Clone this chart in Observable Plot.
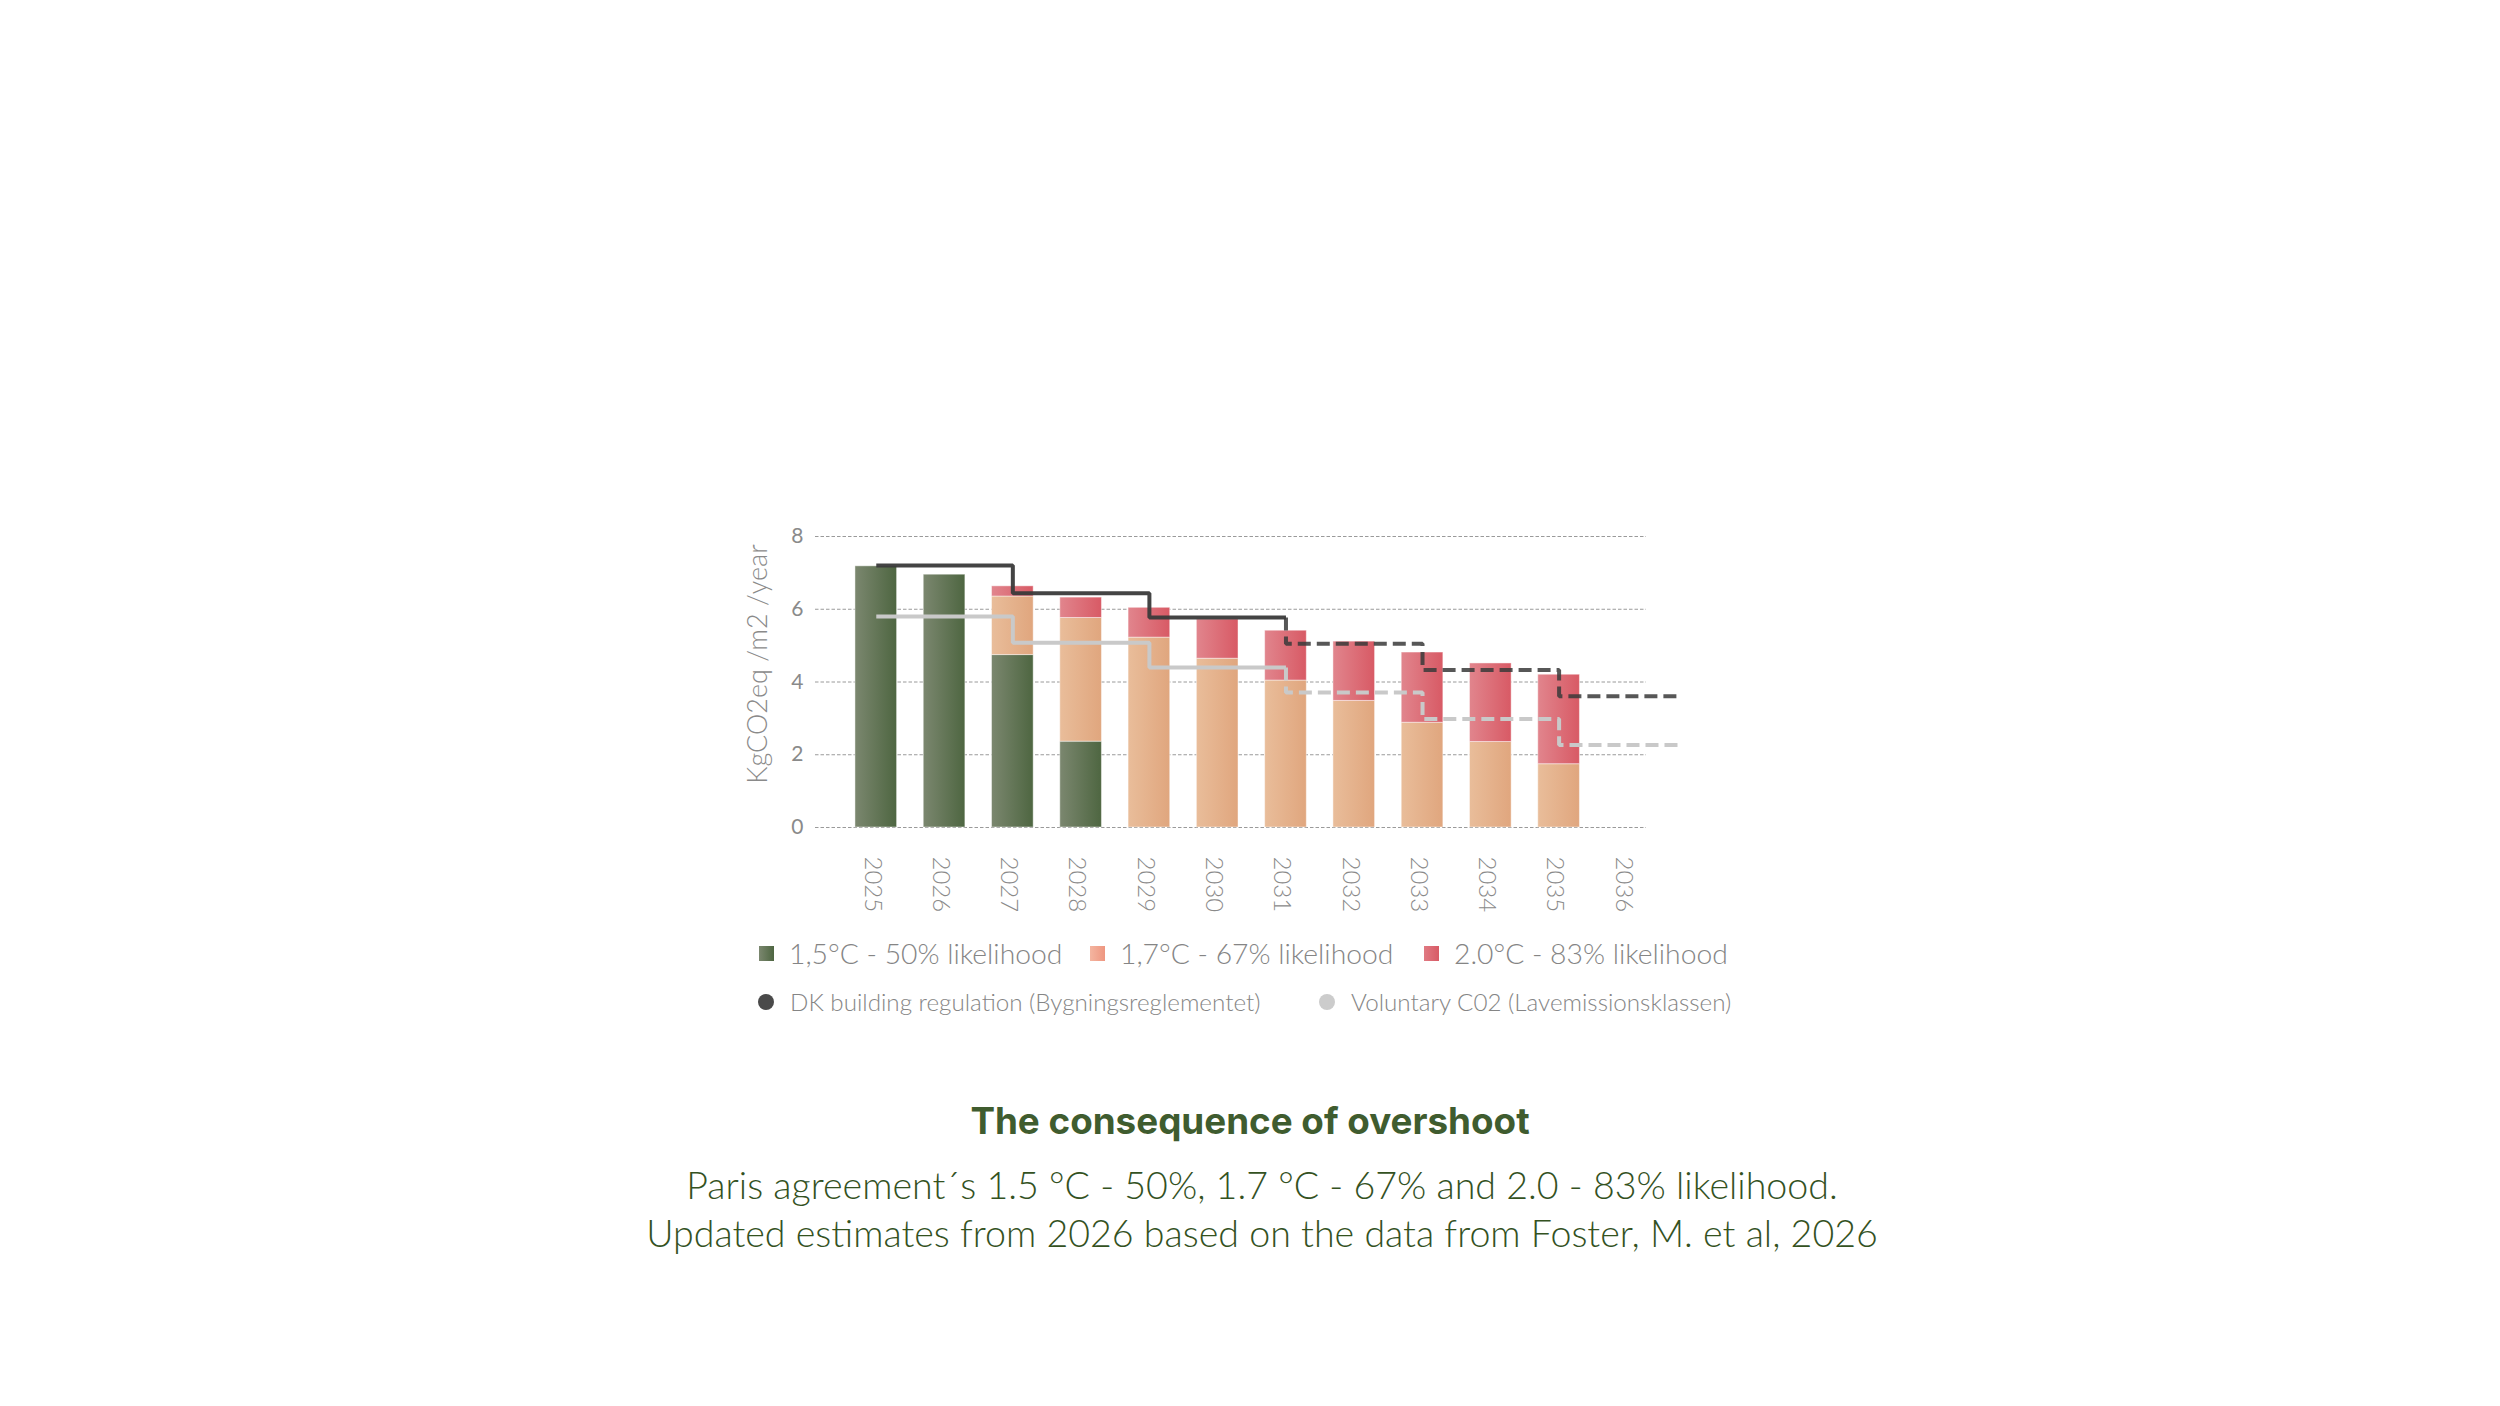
<!DOCTYPE html>
<html>
<head>
<meta charset="utf-8">
<script src="https://cdn.jsdelivr.net/npm/d3@7"></script>
<script src="https://cdn.jsdelivr.net/npm/@observablehq/plot@0.6"></script>
<style>
  html, body { margin: 0; padding: 0; background: #ffffff; width: 2500px; height: 1406px; overflow: hidden; }
  body { position: relative; }
  #chart { position: absolute; left: 700px; top: 500px; }
  .leg { position: absolute; font-family: Lato, sans-serif; font-weight: 300; color: #858585; white-space: nowrap; }
  .leg .sw { position: absolute; }
  .leg .tx { position: absolute; }
  .title { position: absolute; font-family: Inter, sans-serif; font-weight: 700; color: #3f5c2f; white-space: nowrap; transform: translateX(-50%); }
  .sub { position: absolute; font-family: Lato, sans-serif; font-weight: 300; color: #34521f; white-space: nowrap; text-align: center; transform: translateX(-50%); }
</style>
</head>
<body>
<div id="chart"></div>
<div id="legend"></div>
<div class="title" id="title" style="left:1250px; top:1101px; font-size:36.8px; line-height:40px;"></div>
<div class="sub" id="subtitle" style="left:1262px; top:1161px; font-size:37.6px; line-height:48px;"></div>
<script>
// ---- data ----
const years = [2025, 2026, 2027, 2028, 2029, 2030, 2031, 2032, 2033, 2034, 2035];
const axisYears = [2025, 2026, 2027, 2028, 2029, 2030, 2031, 2032, 2033, 2034, 2035, 2036];
// top of each budget level (kgCO2eq/m2/year)
const level15 = [7.18, 6.95, 4.74, 2.36, 0, 0, 0, 0, 0, 0, 0];
const level17 = [7.18, 6.95, 6.35, 5.76, 5.22, 4.64, 4.04, 3.48, 2.88, 2.35, 1.74];
const level20 = [7.18, 6.95, 6.63, 6.32, 6.04, 5.72, 5.41, 5.11, 4.81, 4.51, 4.20];
// regulation steps
const stepYears = [2025, 2027, 2029, 2031, 2033, 2035];
const dkLevels = [7.20, 6.44, 5.77, 5.05, 4.33, 3.61];
const volLevels = [5.80, 5.08, 4.40, 3.71, 2.98, 2.27];
const stepEnd = 2036.75;
const projectedFrom = 2031;
const yTicks = [0, 2, 4, 6, 8];
const yLabel = "KgCO2eq /m2 /year";
const seriesLabels = ["1,5°C - 50% likelihood", "1,7°C - 67% likelihood", "2.0°C - 83% likelihood"];
const lineLabels = ["DK building regulation (Bygningsreglementet)", "Voluntary C02 (Lavemissionsklassen)"];
const titleText = "The consequence of overshoot";
const subtitleLines = ["Paris agreement´s 1.5 °C - 50%, 1.7 °C - 67% and 2.0 - 83% likelihood.",
                       "Updated estimates from 2026 based on the data from Foster, M. et al, 2026"];

// ---- derived tables ----
const seg15 = years.map((year, i) => ({year, y1: 0, y2: level15[i]})).filter(d => d.y2 > d.y1);
const seg17 = years.map((year, i) => ({year, y1: level15[i], y2: level17[i]})).filter(d => d.y2 > d.y1);
const seg20 = years.map((year, i) => ({year, y1: level17[i], y2: level20[i]})).filter(d => d.y2 > d.y1);

function stepParts(levels) {
  const pts = stepYears.map((year, i) => ({year, v: levels[i]}));
  const solid = pts.filter(p => p.year < projectedFrom);
  const lastSolid = solid[solid.length - 1];
  solid.push({year: projectedFrom, v: lastSolid.v});
  const dashed = [{year: projectedFrom, v: lastSolid.v}, ...pts.filter(p => p.year >= projectedFrom)];
  dashed.push({year: stepEnd, v: dashed[dashed.length - 1].v});
  return {solid, dashed};
}
const dk = stepParts(dkLevels);
const vol = stepParts(volLevels);

const half = 0.305; // half bar width in years
const barOpts = (data, fill) => Plot.rectY(data, {
  x1: d => d.year - half, x2: d => d.year + half, y1: "y1", y2: "y2",
  fill, stroke: "#ffffff", strokeOpacity: 0.45, strokeWidth: 1
});

const dkColor = "#3a3a3a";
const volColor = "#c9c9c9";
const lw = 4;

const chart = Plot.plot({
  width: 1060,
  height: 430,
  marginLeft: 115,
  marginRight: 114,
  marginTop: 36,
  marginBottom: 103,
  style: {fontFamily: "Lato, sans-serif", fontWeight: 400, color: "#8a8a8a", background: "transparent", overflow: "visible"},
  x: {type: "linear", domain: [2024.11, 2036.28]},
  y: {domain: [0, 8]},
  marks: [
    Plot.gridY(yTicks, {stroke: "#9a9a9a", strokeOpacity: 1, strokeWidth: 1, strokeDasharray: "3.5,2"}),
    barOpts(seg15, "url(#gGreen)"),
    barOpts(seg17, "url(#gPeach)"),
    barOpts(seg20, "url(#gRed)"),
    Plot.line(vol.solid, {x: "year", y: "v", curve: "step-after", stroke: volColor, strokeWidth: lw, strokeLinejoin: "miter", strokeLinecap: "butt"}),
    Plot.line(vol.dashed, {x: "year", y: "v", curve: "step-after", stroke: volColor, strokeWidth: lw, strokeDasharray: "13,6", strokeLinejoin: "miter", strokeLinecap: "butt"}),
    Plot.line(dk.solid, {x: "year", y: "v", curve: "step-after", stroke: dkColor, strokeOpacity: 0.95, strokeWidth: lw, strokeLinejoin: "miter", strokeLinecap: "butt"}),
    Plot.line(dk.dashed, {x: "year", y: "v", curve: "step-after", stroke: dkColor, strokeOpacity: 0.85, strokeWidth: lw, strokeDasharray: "13,6", strokeLinejoin: "miter", strokeLinecap: "butt"}),
    Plot.axisY({ticks: yTicks, tickSize: 0, tickPadding: 12, label: null, fontSize: 21}),
    Plot.axisX({ticks: axisYears, tickFormat: d => String(d), tickRotate: 90, tickSize: 0, tickPadding: 29, label: null, fontSize: 24, dx: -4, fontWeight: 300}),
    Plot.text([yLabel], {text: d => d, frameAnchor: "left", textAnchor: "middle", rotate: -90, dx: -57, dy: -18, fontSize: 27, fontWeight: 300, fill: "#8a8a8a"})
  ]
});

// gradients for the bars
const defs = d3.select(chart).insert("defs", ":first-child");
const grads = {
  gGreen: ["#7b876f", "#4e6641"],
  gPeach: ["#e9bd9a", "#e0a67e"],
  gRed: ["#e1858d", "#d85a65"]
};
for (const [id, [c0, c1]] of Object.entries(grads)) {
  const g = defs.append("linearGradient").attr("id", id).attr("x1", "0").attr("x2", "1").attr("y1", "0").attr("y2", "0");
  g.append("stop").attr("offset", "0%").attr("stop-color", c0);
  g.append("stop").attr("offset", "100%").attr("stop-color", c1);
}
document.getElementById("chart").appendChild(chart);

// ---- legend ----
const legend = document.getElementById("legend");
const swatchCss = [
  "linear-gradient(to right, #7b876f, #4e6641)",
  "linear-gradient(to right, #f4b5a0, #ee9680)",
  "linear-gradient(to right, #e07a83, #d85a65)"
];
const row1Left = [759, 1090, 1424];
seriesLabels.forEach((label, i) => {
  const el = document.createElement("div");
  el.className = "leg";
  el.style.left = row1Left[i] + "px";
  el.style.top = "937px";
  el.style.height = "32px";
  el.style.fontSize = "28.3px";
  el.style.lineHeight = "32px";
  el.innerHTML = `<span class="sw" style="left:0;top:9px;width:15px;height:15px;background:${swatchCss[i]}"></span><span class="tx" style="left:30px;top:0">${label}</span>`;
  legend.appendChild(el);
});
const row2Left = [758, 1319];
const dotColors = ["#4a4a4a", "#cccccc"];
lineLabels.forEach((label, i) => {
  const el = document.createElement("div");
  el.className = "leg";
  el.style.left = row2Left[i] + "px";
  el.style.top = "987px";
  el.style.height = "30px";
  el.style.fontSize = "24.2px";
  el.style.lineHeight = "30px";
  el.innerHTML = `<span class="sw" style="left:0;top:7px;width:16px;height:16px;border-radius:50%;background:${dotColors[i]}"></span><span class="tx" style="left:32px;top:0">${label}</span>`;
  legend.appendChild(el);
});

document.getElementById("title").textContent = titleText;
document.getElementById("subtitle").innerHTML = subtitleLines.join("<br>");
</script>
</body>
</html>
